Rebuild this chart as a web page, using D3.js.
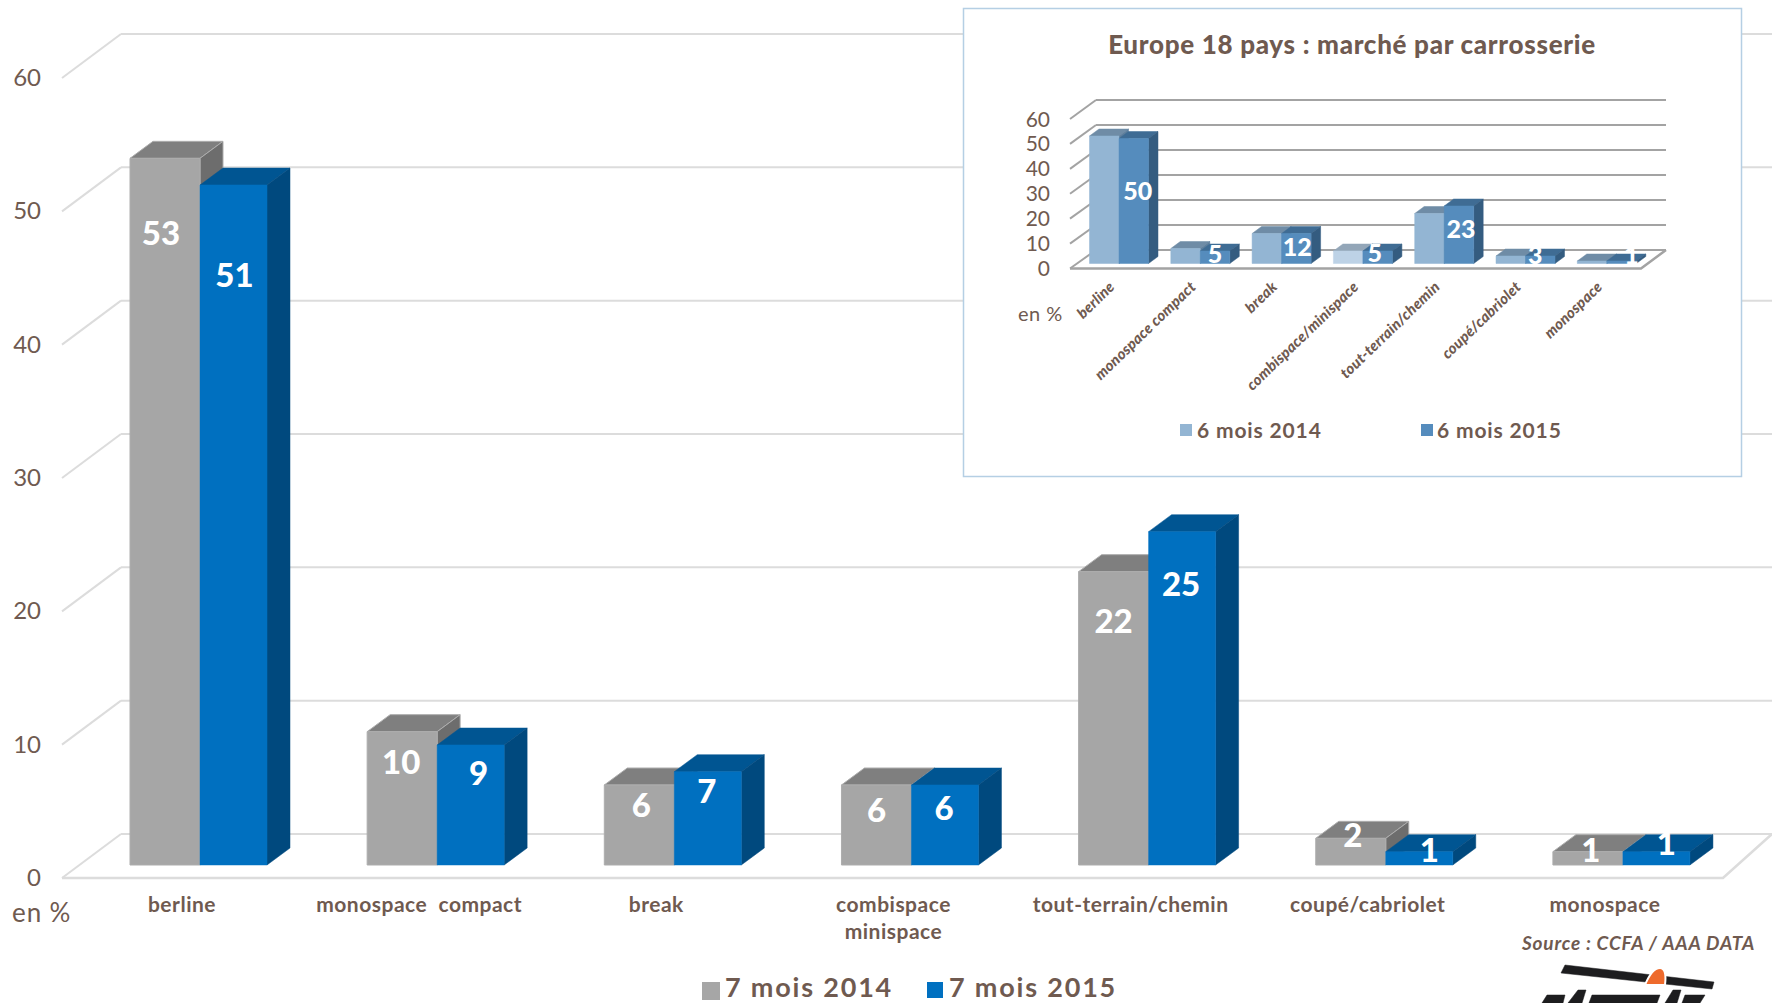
<!DOCTYPE html>
<html>
<head>
<meta charset="utf-8">
<script src="https://cdn.jsdelivr.net/npm/d3@7"></script>
<style>
  html, body { margin: 0; padding: 0; background: #fff; overflow: hidden; }
  text { font-family: Lato, "Open Sans", sans-serif; fill: #6f5a50; }
</style>
</head>
<body>
<div id="chart"></div>
<script>
// main chart
const categories = ["berline", "monospace  compact", "break", "combispace|minispace", "tout-terrain/chemin", "coupé/cabriolet", "monospace"];
const series = ["7 mois 2014", "7 mois 2015"];
const values2014 = [53, 10, 6, 6, 22, 2, 1];
const values2015 = [51, 9, 7, 6, 25, 1, 1];

// inset chart
const insetTitle = "Europe 18 pays : marché par carrosserie";
const insetCategories = ["berline", "monospace compact", "break", "combispace/minispace", "tout-terrain/chemin", "coupé/cabriolet", "monospace"];
const insetSeries = ["6 mois 2014", "6 mois 2015"];
const insetValues2014 = [51, 6, 12, 5, 20, 3, 1];
const insetValues2015 = [50, 5, 12, 5, 23, 3, 1];

const yTicks = [0, 10, 20, 30, 40, 50, 60];
const unitLabel = "en %";
const sourceLabel = "Source : CCFA / AAA DATA";

// data labels were placed by hand in the original, nudges from bar top centre
const labelNudge2014 = [[-4, 74], [-1, 29], [2, 19], [0, 24], [0, 48], [2, -4], [3, -3]];
const labelNudge2015 = [[1, 89], [8, 27], [-1, 18], [-1, 22], [-1, 51], [10, -3], [10, -10]];
const insetNudge2015 = [[4, 51], [0, 2], [1, 12], [-3, 1], [2, 22], [-5, -2], [10, -7]];

const svg = d3.select("#chart").append("svg")
  .attr("width", 1772)
  .attr("height", 1003)
  .style("display", "block");

function poly(g, pts, fill, stroke) {
  g.append("polygon")
    .attr("points", pts.map(p => p.join(",")).join(" "))
    .attr("fill", fill)
    .attr("stroke", stroke || fill)
    .attr("stroke-width", stroke ? 1 : 0.5)
    .attr("stroke-linejoin", "round");
}

// one 3D column: front, top and side faces
function column(g, x, w, yTop, yBase, depth, c) {
  const dx = depth[0], dy = depth[1];
  poly(g, [[x, yTop], [x + w, yTop], [x + w + dx, yTop + dy], [x + dx, yTop + dy]], c.top, c.edge);
  poly(g, [[x + w, yTop], [x + w + dx, yTop + dy], [x + w + dx, yBase + dy], [x + w, yBase]], c.side, c.edge);
  poly(g, [[x, yTop], [x + w, yTop], [x + w, yBase], [x, yBase]], c.front, c.edge);
}

// 3D grid: back wall lines, left wall diagonals, floor
function grid(g, o) {
  const front = o.yFront, back = o.yBack;
  g.selectAll("line.back").data(o.ticks).enter().append("line")
    .attr("class", "back")
    .attr("x1", o.xBack).attr("x2", o.xEnd)
    .attr("y1", d => back(d)).attr("y2", d => back(d))
    .attr("stroke", o.color).attr("stroke-width", o.width);
  g.selectAll("line.diag").data(o.ticks).enter().append("line")
    .attr("class", "diag")
    .attr("x1", o.xFront).attr("x2", o.xBack)
    .attr("y1", d => front(d)).attr("y2", d => back(d))
    .attr("stroke", o.color).attr("stroke-width", o.width);
  g.append("path")
    .attr("d", d3.line()([[o.xFront, front(0)], [o.xFloorEnd, front(0)], [o.xEnd, back(0)]]))
    .attr("fill", "none").attr("stroke", o.color).attr("stroke-width", o.width + 0.5);
}

// ---------- main chart
const main = svg.append("g");
const yFront = d3.scaleLinear().domain([0, 60]).range([878, 78]);
const yBack = d3.scaleLinear().domain([0, 60]).range([834, 34]);
const yBar = d3.scaleLinear().domain([0, 60]).range([865, 65]);
const x0 = d3.scaleBand().domain(categories).range([130, 1690]).paddingInner(100 / 237).paddingOuter(0);

grid(main, { ticks: yTicks, yFront: yFront, yBack: yBack, xFront: 62, xBack: 121, xFloorEnd: 1723, xEnd: 1772, color: "#dcdcdc", width: 2 });

const grey = { front: "#a6a6a6", top: "#7f7f7f", side: "#6d6d6d", edge: "#adadad" };
const blue = { front: "#0070c0", top: "#005592", side: "#00497e" };
const depth = [23, -17];
const wGrey = 70, wBlue = 67;

categories.forEach((c, i) => {
  const x = x0(c);
  column(main, x, wGrey, yBar(values2014[i]), yBar(0), depth, grey);
  column(main, x + wGrey, wBlue, yBar(values2015[i]), yBar(0), depth, blue);
});

const dataLabel = (g, x, y, txt, size) => g.append("text")
  .attr("x", x).attr("y", y)
  .attr("text-anchor", "middle").attr("dominant-baseline", "central")
  .attr("font-size", size).attr("font-weight", 900)
  .style("fill", "#fff")
  .text(txt);

categories.forEach((c, i) => {
  const x = x0(c);
  dataLabel(main, x + wGrey / 2 + labelNudge2014[i][0], yBar(values2014[i]) + labelNudge2014[i][1], values2014[i], 33);
  dataLabel(main, x + wGrey + wBlue / 2 + labelNudge2015[i][0], yBar(values2015[i]) + labelNudge2015[i][1], values2015[i], 33);
});

main.selectAll("text.ytick").data(yTicks).enter().append("text")
  .attr("class", "ytick")
  .attr("x", 41).attr("y", d => yFront(d) - 1.5)
  .attr("text-anchor", "end").attr("dominant-baseline", "central")
  .attr("font-size", 24)
  .text(d => d);

main.append("text").attr("x", 12).attr("y", 912)
  .attr("dominant-baseline", "central").attr("font-size", 26).attr("letter-spacing", 0.9).text(unitLabel);

// category labels, "|" splits a two line label
categories.forEach(c => {
  c.split("|").forEach((line, k) => {
    main.append("text")
      .attr("x", x0(c) + 52).attr("y", 903 + k * 27)
      .attr("text-anchor", "middle").attr("dominant-baseline", "central")
      .attr("font-size", 21).attr("font-weight", 700).attr("letter-spacing", 0.5)
      .style("white-space", "pre")
      .text(line);
  });
});

// main legend
main.append("rect").attr("x", 702).attr("y", 982).attr("width", 18).attr("height", 18).attr("fill", grey.front);
main.append("text").attr("x", 725).attr("y", 986.5).attr("dominant-baseline", "central")
  .attr("font-size", 27).attr("font-weight", 700).attr("letter-spacing", 1.8).text(series[0]);
main.append("rect").attr("x", 927).attr("y", 982).attr("width", 16).attr("height", 16).attr("fill", blue.front);
main.append("text").attr("x", 949).attr("y", 986.5).attr("dominant-baseline", "central")
  .attr("font-size", 27).attr("font-weight", 700).attr("letter-spacing", 1.8).text(series[1]);

main.append("text").attr("x", 1522).attr("y", 942).attr("dominant-baseline", "central")
  .attr("font-size", 19).attr("font-weight", 700).attr("font-style", "italic").attr("letter-spacing", 0.8).text(sourceLabel);

// ---------- inset chart
const inset = svg.append("g");
inset.append("rect").attr("x", 963.5).attr("y", 8.5).attr("width", 778).attr("height", 468)
  .attr("fill", "#fff").attr("stroke", "#b5cfe4").attr("stroke-width", 1.5);

inset.append("text").attr("x", 1352).attr("y", 44)
  .attr("text-anchor", "middle").attr("dominant-baseline", "central")
  .attr("font-size", 26).attr("font-weight", 900).attr("letter-spacing", 0.7).text(insetTitle);

const iFront = d3.scaleLinear().domain([0, 60]).range([268.5, 119]);
const iBack = d3.scaleLinear().domain([0, 60]).range([250, 100]);
const iBar = d3.scaleLinear().domain([0, 60]).range([263.5, 113.5]);
const ix0 = d3.scaleBand().domain(insetCategories).range([1089.5, 1636.3]).paddingInner(22.3 / 81.3).paddingOuter(0);

grid(inset, { ticks: yTicks, yFront: iFront, yBack: iBack, xFront: 1070, xBack: 1096, xFloorEnd: 1641, xEnd: 1666, color: "#a3a3a3", width: 2 });

const light = { front: "#93b5d3", top: "#6f8ca6", side: "#5f7f9c" };
const pale = { front: "#bdd2e6", top: "#93a6b8", side: "#7f95a9" };
const steel = { front: "#558cbd", top: "#3f6c94", side: "#345c80" };
const iDepth = [9.5, -7];
const iw = ix0.bandwidth() / 2;

insetCategories.forEach((c, i) => {
  const x = ix0(c);
  // combispace/minispace 2014 is paler in the original
  column(inset, x, iw, iBar(insetValues2014[i]), iBar(0), iDepth, i === 3 ? pale : light);
  column(inset, x + iw, iw, iBar(insetValues2015[i]), iBar(0), iDepth, steel);
});

insetCategories.forEach((c, i) => {
  dataLabel(inset, ix0(c) + iw * 1.5 + insetNudge2015[i][0], iBar(insetValues2015[i]) + insetNudge2015[i][1], insetValues2015[i], 25);
});

inset.selectAll("text.ytick").data(yTicks).enter().append("text")
  .attr("class", "ytick")
  .attr("x", 1050).attr("y", d => iFront(d) - 1)
  .attr("text-anchor", "end").attr("dominant-baseline", "central")
  .attr("font-size", 21)
  .text(d => d);

inset.append("text").attr("x", 1018).attr("y", 313)
  .attr("dominant-baseline", "central").attr("font-size", 20).attr("letter-spacing", 0.5).text(unitLabel);

insetCategories.forEach(c => {
  const lx = ix0(c) + 26;
  inset.append("text")
    .attr("transform", "translate(" + lx + ",288) rotate(-44)")
    .attr("text-anchor", "end")
    .attr("font-size", 15).attr("font-weight", 900).attr("font-style", "italic").attr("letter-spacing", 0.2)
    .text(c);
});

inset.append("rect").attr("x", 1180).attr("y", 424).attr("width", 12).attr("height", 12).attr("fill", light.front);
inset.append("text").attr("x", 1197).attr("y", 429).attr("dominant-baseline", "central")
  .attr("font-size", 21).attr("font-weight", 700).attr("letter-spacing", 0.85).text(insetSeries[0]);
inset.append("rect").attr("x", 1421).attr("y", 424).attr("width", 12).attr("height", 12).attr("fill", steel.front);
inset.append("text").attr("x", 1437).attr("y", 429).attr("dominant-baseline", "central")
  .attr("font-size", 21).attr("font-weight", 700).attr("letter-spacing", 0.85).text(insetSeries[1]);

// ---------- logo, bottom right, cut off by the page edge
const logo = svg.append("g");
poly(logo, [[1565, 965], [1561, 973], [1712, 989], [1714, 982]], "#1d1d1f");
logo.append("path")
  .attr("d", "M1645,985 Q1652,968 1660,968 Q1667,968 1665,985 Z")
  .attr("fill", "#ee6a2c").attr("stroke", "#fff").attr("stroke-width", 2);
poly(logo, [[1542, 1003], [1547, 995], [1565, 995], [1563, 1003]], "#1d1d1f");
poly(logo, [[1568, 1003], [1578, 990], [1586, 990], [1582, 1003]], "#1d1d1f");
poly(logo, [[1589, 1003], [1592, 995], [1660, 995], [1657, 1003]], "#1d1d1f");
poly(logo, [[1665, 1003], [1673, 990], [1681, 990], [1677, 1003]], "#1d1d1f");
poly(logo, [[1682, 1003], [1685, 995], [1705, 995], [1700, 1003]], "#1d1d1f");
</script>
</body>
</html>
